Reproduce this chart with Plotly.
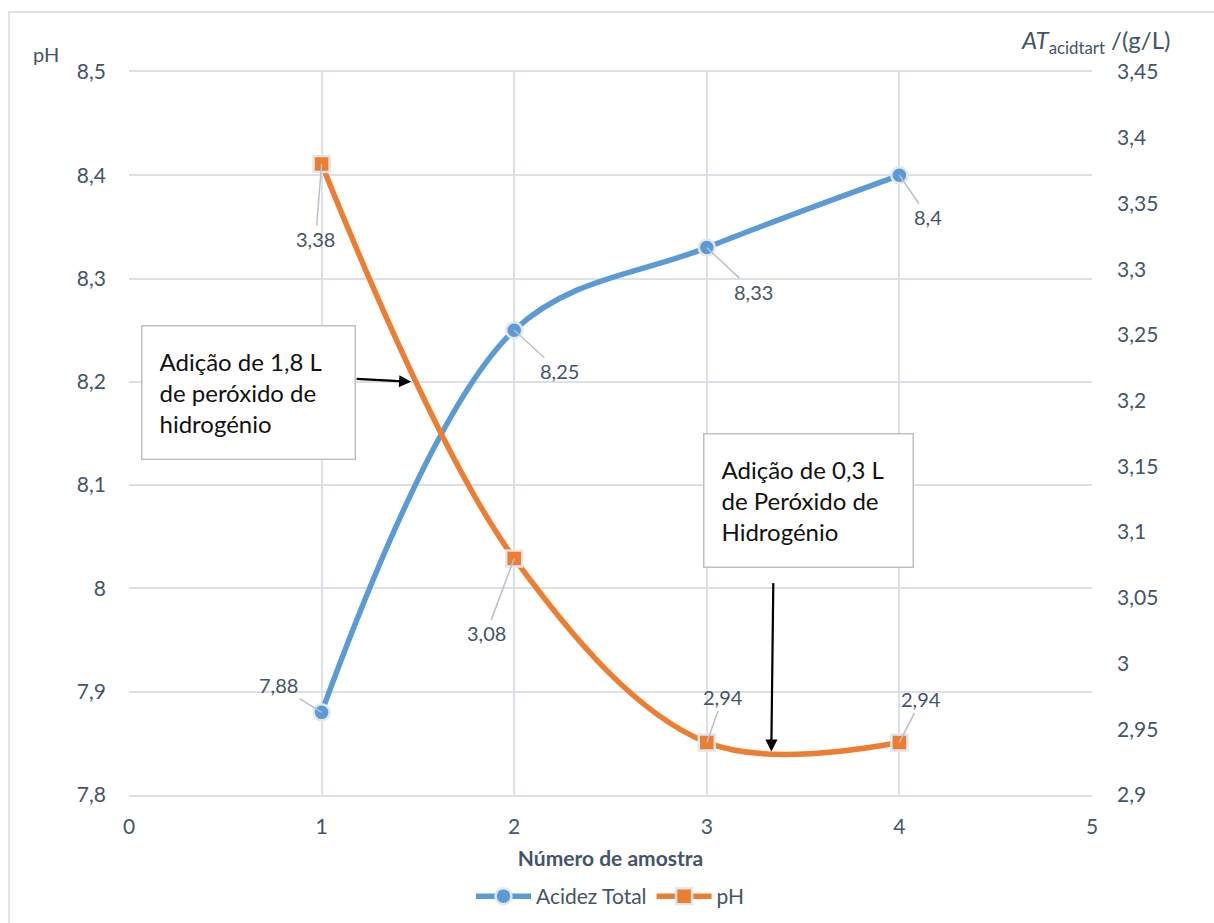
import plotly.graph_objects as go

# Sample number (x), total acidity (left axis) and pH (right axis)
amostras = [1, 2, 3, 4]
acidez_total = [7.88, 8.25, 8.33, 8.4]
ph = [3.38, 3.08, 2.94, 2.94]

y_left_ticks = [7.8, 7.9, 8.0, 8.1, 8.2, 8.3, 8.4, 8.5]
y_left_text = ["7,8", "7,9", "8", "8,1", "8,2", "8,3", "8,4", "8,5"]
y_right_ticks = [2.9, 2.95, 3.0, 3.05, 3.1, 3.15, 3.2, 3.25, 3.3, 3.35, 3.4, 3.45]
y_right_text = ["2,9", "2,95", "3", "3,05", "3,1", "3,15", "3,2", "3,25", "3,3", "3,35", "3,4", "3,45"]
x_ticks = [0, 1, 2, 3, 4, 5]

BLUE = "#5B9BD5"
ORANGE = "#ED7D31"
TXT = "#44546A"
GRID = "#DDE1E7"
FONT = "Lato, Open Sans, sans-serif"

fig = go.Figure()
fig.add_trace(go.Scatter(
    x=amostras, y=acidez_total, name="Acidez Total", yaxis="y",
    mode="lines+markers", line=dict(color=BLUE, width=5.5, shape="spline", smoothing=1.0),
    marker=dict(symbol="circle", size=16, color=BLUE, line=dict(color="#E3E6EA", width=2.5)),
))
fig.add_trace(go.Scatter(
    x=amostras, y=ph, name="pH", yaxis="y2",
    mode="lines+markers", line=dict(color=ORANGE, width=5.5, shape="spline", smoothing=1.0),
    marker=dict(symbol="square", size=16, color=ORANGE, line=dict(color="#E3E6EA", width=2.5)),
))

def fmt(v):
    return f"{v:g}".replace(".", ",")

annotations = []
# data labels with leader lines (offset in pixels from the point)
label_font = dict(size=20, color=TXT, family=FONT)
acid_offsets = [(-43, -27), (45, 41), (47, 44), (29, 42)]
ph_offsets = [(-6, 75), (-28, 75), (16, -45), (22, -43)]
for xv, yv, (dx, dy) in zip(amostras, acidez_total, acid_offsets):
    annotations.append(dict(x=xv, y=yv, xref="x", yref="y", text=fmt(yv), showarrow=True,
                            ax=dx, ay=dy, arrowhead=0, arrowwidth=1.5, arrowcolor="#B8C0CB",
                            standoff=0, font=label_font))
for xv, yv, (dx, dy) in zip(amostras, ph, ph_offsets):
    annotations.append(dict(x=xv, y=yv, xref="x", yref="y2", text=fmt(yv), showarrow=True,
                            ax=dx, ay=dy, arrowhead=0, arrowwidth=1.5, arrowcolor="#B8C0CB",
                            standoff=0, font=label_font))

# axis titles
annotations.append(dict(x=-98 / 963, y=1 + 4 / 723, xref="paper", yref="paper",
                        xanchor="left", yanchor="bottom",
                        text="pH", showarrow=False, font=dict(size=20, color=TXT, family=FONT)))
annotations.append(dict(x=1 + 80 / 963, y=1 + 12 / 723, xref="paper", yref="paper",
                        xanchor="right", yanchor="bottom",
                        text="<i>AT</i><sub>acidtart</sub> /(g/L)", showarrow=False,
                        font=dict(size=24, color=TXT, family=FONT)))

# callout boxes
box_font = dict(size=24, color="#111111", family=FONT)
annotations.append(dict(x=1.465, y=8.2, xref="x", yref="y", text="", showarrow=True,
                        ax=-56, ay=-3, arrowhead=2, arrowsize=1.1, arrowwidth=2.2, arrowcolor="black"))
annotations.append(dict(x=0.06, y=8.19, xref="x", yref="y", xanchor="left", yanchor="middle",
                        text="Adição de 1,8 L<br>de peróxido de<br>hidrogénio", align="left",
                        valign="middle", showarrow=False, bgcolor="white", bordercolor="#BFBFBF",
                        borderwidth=1.5, borderpad=17, width=178, height=98, font=box_font))
annotations.append(dict(x=3.335, y=7.842, xref="x", yref="y", text="", showarrow=True,
                        ax=2, ay=-170, arrowhead=2, arrowsize=1.1, arrowwidth=2.2, arrowcolor="black"))
annotations.append(dict(x=2.98, y=8.085, xref="x", yref="y", xanchor="left", yanchor="middle",
                        text="Adição de 0,3 L<br>de Peróxido de<br>Hidrogénio", align="left",
                        valign="middle", showarrow=False, bgcolor="white", bordercolor="#BFBFBF",
                        borderwidth=1.5, borderpad=17, width=174, height=98, font=box_font))

fig.update_layout(
    width=1214, height=923,
    margin=dict(l=129, r=122, t=72, b=128, autoexpand=False),
    paper_bgcolor="white", plot_bgcolor="white",
    font=dict(family=FONT, color=TXT, size=20),
    showlegend=True,
    legend=dict(orientation="h", x=0.5, xanchor="center", y=-0.112, yanchor="top",
                font=dict(size=21, color=TXT, family=FONT), itemwidth=55),
    xaxis=dict(range=[0, 5], tickvals=x_ticks, ticktext=[str(v) for v in x_ticks],
               showgrid=True, gridcolor=GRID, gridwidth=1.5, zeroline=False,
               showline=True, linecolor=GRID, linewidth=1.5, mirror=True, ticks="",
               tickfont=dict(size=21, color=TXT), ticklabelstandoff=12,
               title=dict(text="<b>Número de amostra</b>", font=dict(size=21, color=TXT), standoff=14)),
    yaxis=dict(range=[7.8, 8.5], tickvals=y_left_ticks, ticktext=y_left_text,
               showgrid=True, gridcolor=GRID, gridwidth=1.5, zeroline=False, ticks="",
               tickfont=dict(size=21, color=TXT), ticklabelstandoff=22),
    yaxis2=dict(range=[2.9, 3.45], tickvals=y_right_ticks, ticktext=y_right_text,
                overlaying="y", side="right", showgrid=False, zeroline=False, ticks="",
                tickfont=dict(size=21, color=TXT), ticklabelstandoff=24),
    annotations=annotations,
    shapes=[dict(type="rect", xref="paper", yref="paper",
                 x0=-120 / 963, x1=1.3, y0=-0.5, y1=1 + 60 / 723,
                 line=dict(color="#D9D9D9", width=1.5), fillcolor="rgba(0,0,0,0)", layer="below")],
)

fig.write_html("out.html")
